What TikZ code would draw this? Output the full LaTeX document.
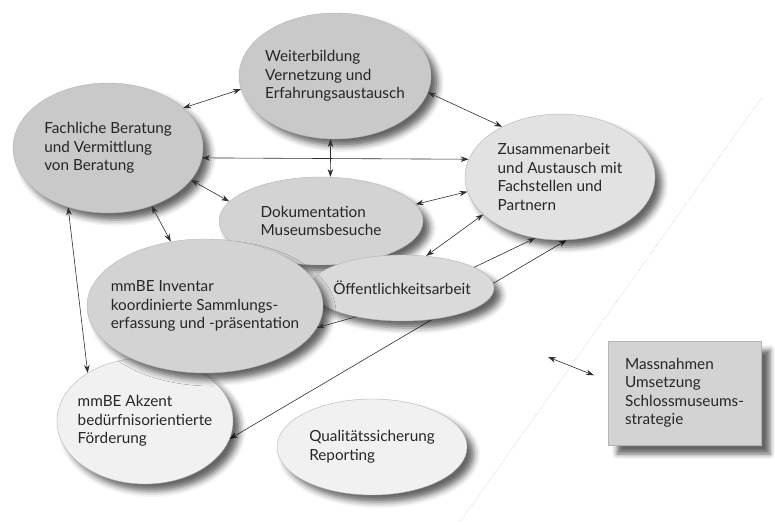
\documentclass[tikz,border=0pt]{standalone}
\usepackage{fontspec}
\setmainfont{Lato}
\usetikzlibrary{arrows.meta,shapes.geometric,shadows.blur,backgrounds}

\definecolor{fillDark}{HTML}{C9C9C9}
\definecolor{fillMid}{HTML}{D3D3D3}
\definecolor{fillSoft}{HTML}{DADADA}
\definecolor{fillLight}{HTML}{E2E2E2}
\definecolor{fillPale}{HTML}{F1F1F1}
\definecolor{edgeGray}{HTML}{B4B4B4}
\definecolor{linkGray}{HTML}{2E2E2E}

\begin{document}
\begin{tikzpicture}[x=1pt, y=-1pt,
    bubble/.style={ellipse, draw=edgeGray, line width=0.4pt, align=left, text=black!85,
        inner xsep=-40pt, inner ysep=-20pt, font=\fontsize{15.3}{18.5}\selectfont,
        blur shadow={shadow xshift=7pt, shadow yshift=-7pt, shadow blur radius=6pt, shadow opacity=60}},
    strategybox/.style={rectangle, draw=edgeGray, line width=0.4pt, fill=fillMid, align=left,
        text=black!85, font=\fontsize{15.3}{18.5}\selectfont,
        blur shadow={shadow xshift=9pt, shadow yshift=-9pt, shadow blur radius=5pt, shadow opacity=60}},
    link/.style={draw=linkGray, line width=0.6pt,
        {Stealth[length=8pt,width=5.5pt]}-{Stealth[length=8pt,width=5.5pt]}},
    oneway/.style={draw=linkGray, line width=0.6pt, -{Stealth[length=8pt,width=5.5pt]}}]

    \useasboundingbox (0,0) rectangle (775,524);

    % Dividing line
    \draw[gray!60, densely dotted, line width=0.4pt] (762,97) -- (460,522);

    % Fields of activity
    \node[bubble, fill=fillDark, minimum width=192pt, minimum height=126pt] (weiter) at (335,76)
        {Weiterbildung\\Vernetzung und\\Erfahrungsaustausch};
    \node[bubble, fill=fillDark, minimum width=190pt, minimum height=130pt] (fach) at (108,148)
        {Fachliche Beratung\\und Vermittlung\\von Beratung};
    \node[bubble, fill=fillLight, minimum width=190pt, minimum height=126pt] (zus) at (560,177)
        {Zusammenarbeit\\und Austausch mit\\Fachstellen und\\Partnern};
    \node[bubble, fill=fillMid, minimum width=204pt, minimum height=88pt] (dok) at (321,221)
        {Dokumentation\\Museumsbesuche};
    \node[bubble, fill=fillSoft, minimum width=184pt, minimum height=66pt] (oeff) at (402,288)
        {Öffentlichkeitsarbeit};
    \node[bubble, fill=fillPale, minimum width=176pt, minimum height=126pt] (akz) at (145,421)
        {mmBE Akzent\\bedürfnisorientierte\\Förderung};
    \node[bubble, fill=fillMid, minimum width=236pt, minimum height=134pt] (inv) at (205,306)
        {mmBE Inventar\\koordinierte Sammlungs-\\erfassung und -präsentation};
    \node[bubble, fill=fillPale, minimum width=190pt, minimum height=96pt] (qual) at (372,447)
        {Qualitätssicherung\\Reporting};

    % Strategy measures
    \node[strategybox, minimum width=153pt, minimum height=104pt] (box) at (684.5,393)
        {Massnahmen\\Umsetzung\\Schlossmuseums-\\strategie};
    \coordinate (strat) at (548,357);

    % Connections
    \begin{pgfonlayer}{background}
        \draw[link] (zus.276) -- (akz.348);
    \end{pgfonlayer}
    \draw[link] (fach.28) -- (weiter.188);
    \draw[link] (weiter.350) -- (zus.139);
    \draw[link] (weiter.266) -- (dok.78);
    \draw[link] (fach.354) -- (zus.169);
    \draw[link] (fach.339) -- (dok.168);
    \draw[link] (fach.307) -- (inv.118);
    \draw[link] (fach.236) -- (akz.140);
    \draw[link] (dok.10) -- (zus.189);
    \draw[link] (oeff.53) -- (zus.206);
    \draw[oneway] (oeff.16) -- (zus.248);
    \draw[oneway] (oeff.212) -- (inv.349);
    \draw[link, shorten >=15pt] (strat) -- (box.171);
\end{tikzpicture}
\end{document}
